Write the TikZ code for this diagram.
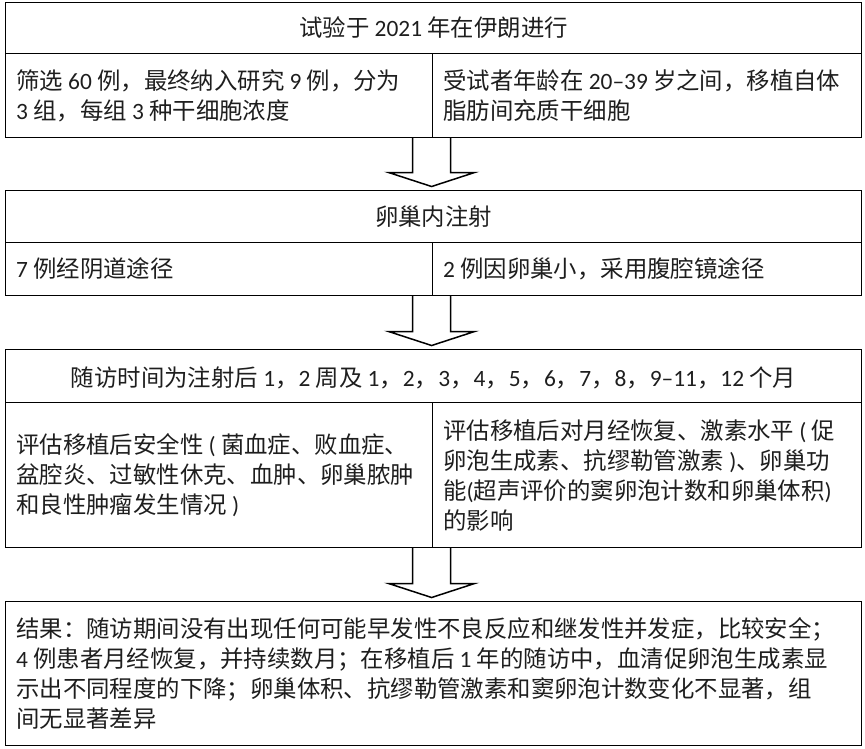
\documentclass[tikz,border=0pt]{standalone}
\usepackage{fontspec}
\setmainfont{Noto Sans CJK SC}
\newfontfamily\lf{Carlito}
\usetikzlibrary{calc}
\newcommand\dg[1]{{\lf #1}}
\newcommand\fsz{\fontsize{23.4pt}{30pt}\selectfont}
\definecolor{ink}{HTML}{1E1E1E}
\newcommand\barr[2]{%
  \draw[barrow] let \p1=(#1), \p2=(#2) in
    (\x1-19pt,\y1) -- (\x1-19pt,\y2+17.5pt) -- (\x1-43pt,\y2+17.5pt)
    -- (\x1,\y2+3.5pt) -- (\x1+43pt,\y2+17.5pt) -- (\x1+19pt,\y2+17.5pt)
    -- (\x1+19pt,\y1);}
\begin{document}
\begin{tikzpicture}[x=1pt,y=-1pt,
  frame/.style={draw=black, line width=1.1pt, anchor=north west, inner sep=0pt},
  txt/.style={inner sep=0pt, text=ink, font=\fsz, align=left, anchor=west},
  ctxt/.style={inner sep=0pt, text=ink, font=\fsz, align=center},
  barrow/.style={draw=black, line width=1.5pt, line join=miter}]
\useasboundingbox (0,0) rectangle (865,748);

% box 1
\node[frame, minimum width=856pt, minimum height=51pt] (h1) at (5,2) {};
\node[frame, minimum width=427pt, minimum height=84pt] (l1) at (5,53) {};
\node[frame, minimum width=429pt, minimum height=84pt] (r1) at (432,53) {};
\node[ctxt] (th1) at (h1.center) {试验于 \dg{2021} 年在伊朗进行};
\node[txt] (tl1) at ($(l1.west)+(11,0)$) {筛选 \dg{60} 例，最终纳入研究 \dg{9} 例，分为\\\dg{3} 组，每组 \dg{3} 种干细胞浓度};
\node[txt] (tr1) at ($(r1.west)+(11,0)$) {受试者年龄在 \dg{20–39} 岁之间，移植自体\\脂肪间充质干细胞};

% box 2
\node[frame, minimum width=856pt, minimum height=52pt] (h2) at (5,190) {};
\node[frame, minimum width=427pt, minimum height=53pt] (l2) at (5,242) {};
\node[frame, minimum width=429pt, minimum height=53pt] (r2) at (432,242) {};
\node[ctxt] (th2) at (h2.center) {卵巢内注射};
\node[txt] (tl2) at ($(l2.west)+(11,0)$) {\dg{7} 例经阴道途径};
\node[txt] (tr2) at ($(r2.west)+(11,0)$) {\dg{2} 例因卵巢小，采用腹腔镜途径};

% box 3
\node[frame, minimum width=856pt, minimum height=53pt] (h3) at (5,349) {};
\node[frame, minimum width=427pt, minimum height=145pt] (l3) at (5,402) {};
\node[frame, minimum width=429pt, minimum height=145pt] (r3) at (432,402) {};
\node[ctxt] (th3) at ($(h3.center)+(0,2)$) {随访时间为注射后 \dg{1}，\dg{2} 周及 \dg{1}，\dg{2}，\dg{3}，\dg{4}，\dg{5}，\dg{6}，\dg{7}，\dg{8}，\dg{9–11}，\dg{12} 个月};
\node[txt] (tl3) at ($(l3.west)+(11,0)$) {评估移植后安全性\dg{ ( }菌血症、败血症、\\盆腔炎、过敏性休克、血肿、卵巢脓肿\\和良性肿瘤发生情况\dg{ )}};
\node[txt] (tr3) at ($(r3.west)+(11,0)$) {评估移植后对月经恢复、激素水平\dg{ ( }促\\卵泡生成素、抗缪勒管激素\dg{ )}、卵巢功\\能\dg{(}超声评价的窦卵泡计数和卵巢体积\dg{)}\\的影响};

% box 4
\node[frame, minimum width=856pt, minimum height=144pt] (b4) at (5,601) {};
\node[txt] (tb4) at ($(b4.west)+(11,0)$) {结果：随访期间没有出现任何可能早发性不良反应和继发性并发症，比较安全；\\\dg{4} 例患者月经恢复，并持续数月；在移植后 \dg{1} 年的随访中，血清促卵泡生成素显\\示出不同程度的下降；卵巢体积、抗缪勒管激素和窦卵泡计数变化不显著，组\\间无显著差异};

% arrows
\barr{$(l1.south east)+(-1.5,0)$}{h2.north}
\barr{$(l2.south east)+(-1.5,0)$}{h3.north}
\barr{$(l3.south east)+(-1.5,0)$}{b4.north}
\end{tikzpicture}
\end{document}
